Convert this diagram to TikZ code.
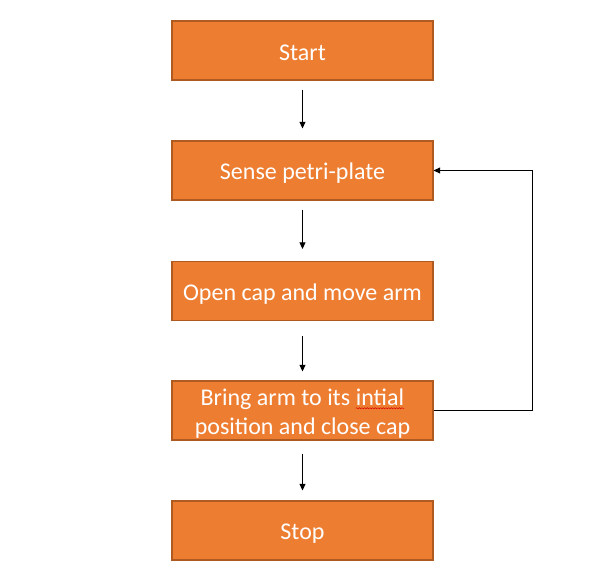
\documentclass[tikz,border=0pt]{standalone}
\usepackage{fontspec}
\setmainfont{Carlito}
\usetikzlibrary{arrows.meta,decorations.pathmorphing}
\definecolor{boxfill}{HTML}{ED7D31}
\definecolor{boxline}{HTML}{AE5A21}
\newcommand{\spellwave}[1]{\tikz[baseline=(w.base)]{\node[inner sep=0pt,outer sep=0pt,minimum width=0pt,minimum height=0pt,draw=none,fill=none,text=white] (w) {#1};\draw[red!85!black,line width=0.35pt,decorate,decoration={snake,amplitude=0.45pt,segment length=2pt}] ([yshift=-2.4pt]w.base west) -- ([yshift=-2.4pt]w.base east);}}
\begin{document}
\begin{tikzpicture}[x=0.75pt,y=-0.75pt,
  stepbox/.style={draw=boxline, line width=0.8pt, fill=boxfill, minimum width=261*0.75pt, minimum height=59*0.75pt, inner sep=0pt},
  steptext/.style={text=white, font=\fontsize{18}{21.75}\selectfont, align=center, inner sep=0pt},
  conn/.style={-{Triangle[length=5pt,width=4.5pt]}, line width=0.75pt, black}]
\useasboundingbox (0,0) rectangle (610,583);
\node[stepbox] (start) at (302.5,50.5) {};
\node[stepbox] (sense) at (302.5,170.5) {};
\node[stepbox] (open) at (302.5,291) {};
\node[stepbox] (bring) at (302.5,410.5) {};
\node[stepbox] (stop) at (302.5,530.5) {};
\node[steptext] (startT) at ([yshift=-2pt]start.center) {Start};
\node[steptext] (senseT) at ([yshift=-2pt]sense.center) {Sense petri-plate};
\node[steptext] (openT) at ([yshift=-2pt]open.center) {Open cap and move arm};
\node[steptext] (bringT) at ([yshift=-2pt]bring.center) {Bring arm to its \spellwave{intial}\\position and close cap};
\node[steptext] (stopT) at ([yshift=-2pt]stop.center) {Stop};
\coordinate (c1) at (532,410.5);
\coordinate (c2) at (532,170.5);
\draw[conn, shorten <=9*0.75pt, shorten >=12*0.75pt] (start) -- (sense);
\draw[conn, shorten <=9*0.75pt, shorten >=12*0.75pt] (sense) -- (open);
\draw[conn, shorten <=15*0.75pt, shorten >=9*0.75pt] (open) -- (bring);
\draw[conn, shorten <=13*0.75pt, shorten >=10*0.75pt] (bring) -- (stop);
\draw[conn] (bring.east) -- (c1) -- (c2) -- (sense.east);
\end{tikzpicture}
\end{document}
